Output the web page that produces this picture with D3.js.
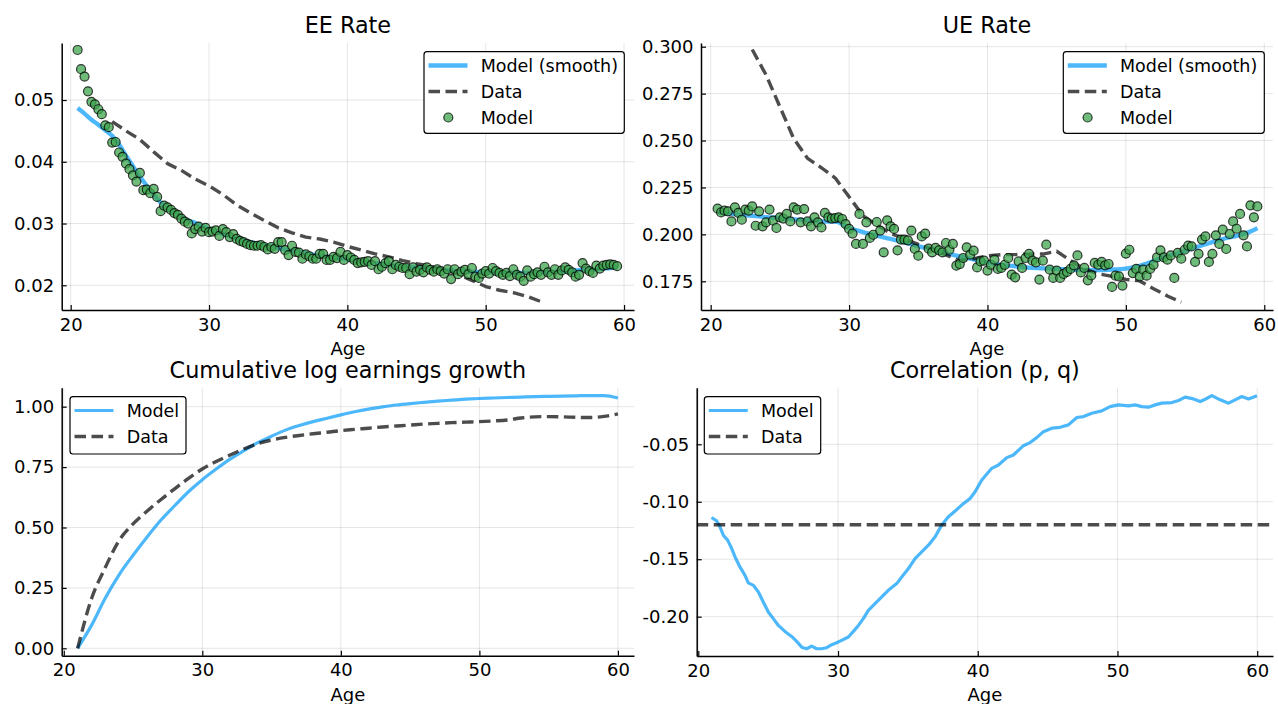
<!DOCTYPE html>
<html><head><meta charset="utf-8">
<script src="https://cdn.jsdelivr.net/npm/d3@7"></script>
<style>body{margin:0;background:#fff}svg{display:block}text{font-family:"DejaVu Sans",sans-serif}</style>
</head><body><svg id="c" width="1278" height="704"></svg>
<script>
// ---------------- DATA ----------------
const xTicks = [20, 30, 40, 50, 60];
const scatterAges = d3.range(20.5, 59.501, 0.25);

const eeModel = [
0.0581,0.0550,0.0538,0.0514,0.0497,0.0493,0.0485,0.0477,0.0459,0.0456,
0.0431,0.0432,0.0415,0.0408,0.0397,0.0388,0.0378,0.0368,0.0382,0.0354,
0.0355,0.0349,0.0356,0.0343,0.0320,0.0329,0.0326,0.0322,0.0317,0.0314,
0.0308,0.0303,0.0300,0.0284,0.0291,0.0295,0.0287,0.0293,0.0286,0.0287,
0.0289,0.0280,0.0291,0.0286,0.0278,0.0283,0.0275,0.0272,0.0270,0.0267,
0.0265,0.0264,0.0264,0.0265,0.0262,0.0258,0.0262,0.0259,0.0270,0.0270,
0.0257,0.0249,0.0264,0.0254,0.0253,0.0243,0.0250,0.0247,0.0243,0.0243,
0.0251,0.0251,0.0241,0.0241,0.0246,0.0244,0.0254,0.0241,0.0249,0.0245,
0.0241,0.0236,0.0237,0.0238,0.0239,0.0233,0.0239,0.0226,0.0230,0.0236,
0.0239,0.0226,0.0233,0.0230,0.0228,0.0228,0.0218,0.0229,0.0222,0.0225,
0.0221,0.0229,0.0225,0.0222,0.0226,0.0223,0.0219,0.0226,0.0210,0.0226,
0.0218,0.0222,0.0225,0.0218,0.0228,0.0214,0.0212,0.0219,0.0223,0.0219,
0.0228,0.0223,0.0220,0.0217,0.0220,0.0215,0.0226,0.0217,0.0214,0.0207,
0.0224,0.0214,0.0218,0.0221,0.0217,0.0230,0.0221,0.0217,0.0226,0.0217,
0.0224,0.0229,0.0225,0.0221,0.0214,0.0217,0.0236,0.0227,0.0223,0.0220,
0.0232,0.0227,0.0232,0.0233,0.0234,0.0233,0.0231];

const eeSmoothAges = [20.5,21,21.5,22,22.5,23,23.5,24,24.5,25,25.5,26,26.5,27,27.5,28,28.5,29,30,31,32,33,34,35,36,37,38,39,40,41,42,43,44,45,46,47,48,49,50,51,52,53,54,55,56,57,58,59,59.5];
const eeSmooth = [0.0487,0.0478,0.0468,0.0460,0.0451,0.0442,0.0428,0.0410,0.0393,0.0376,0.0361,0.0347,0.0334,0.0326,0.0318,0.0311,0.0305,0.0301,0.0291,0.0283,0.0276,0.0270,0.0265,0.0260,0.0256,0.0252,0.0248,0.0245,0.0242,0.0239,0.0236,0.0233,0.0231,0.0229,0.0227,0.0225,0.0223,0.0222,0.0221,0.0221,0.0220,0.0220,0.0221,0.0222,0.0223,0.0225,0.0226,0.0228,0.0229];

const dataAges = [23,24,25,26,27,28,29,30,31,32,33,34,35,36,37,38,39,40,41,42,43,44,45,46,47,48,49,50,51,52,53,54];
const eeData = [0.0465,0.0450,0.0436,0.0416,0.0397,0.0386,0.0372,0.0361,0.0347,0.0330,0.0317,0.0305,0.0293,0.0285,0.0278,0.0275,0.0270,0.0263,0.0257,0.0251,0.0246,0.0240,0.0235,0.0231,0.0225,0.0218,0.0208,0.0198,0.0192,0.0188,0.0182,0.01735];

const ueModel = [
0.2137,0.2117,0.2126,0.2123,0.2069,0.2144,0.2114,0.2078,0.2132,0.2126,
0.2149,0.2046,0.2123,0.2043,0.2064,0.2132,0.2073,0.2034,0.2091,0.2084,
0.2109,0.2069,0.2144,0.2132,0.2064,0.2135,0.2069,0.2043,0.2091,0.2064,
0.2037,0.2114,0.2091,0.2084,0.2087,0.2091,0.2082,0.2055,0.2029,0.2004,
0.1949,0.2109,0.1949,0.2064,0.1981,0.1998,0.2066,0.2020,0.1904,0.2075,
0.2043,0.2029,0.1915,0.1972,0.1972,0.1968,0.2020,0.1922,0.1886,0.1989,
0.2004,0.1924,0.1904,0.1928,0.1915,0.1904,0.1954,0.1918,0.1949,0.1833,
0.1842,0.1874,0.1931,0.1892,0.1913,0.1824,0.1856,0.1860,0.1807,0.1838,
0.1865,0.1816,0.1821,0.1838,0.1874,0.1785,0.1771,0.1856,0.1821,0.1874,
0.1896,0.1860,0.1851,0.1759,0.1860,0.1945,0.1812,0.1768,0.1807,0.1768,
0.1789,0.1800,0.1816,0.1835,0.1888,0.1797,0.1821,0.1755,0.1781,0.1848,
0.1838,0.1853,0.1835,0.1842,0.1720,0.1780,0.1776,0.1727,0.1897,0.1918,
0.1794,0.1816,0.1776,0.1812,0.1780,0.1816,0.1838,0.1877,0.1915,0.1877,
0.1865,0.1888,0.1768,0.1901,0.1870,0.1918,0.1940,0.1936,0.1853,0.1896,
0.1972,0.1989,0.1853,0.1896,0.1995,0.1949,0.2025,0.1922,0.2002,0.2069,
0.2030,0.2109,0.1995,0.1936,0.2155,0.2091,0.2149];

const ueSmoothAges = [20.5,21,22,23,24,25,26,27,28,29,30,31,32,33,34,35,36,37,38,39,40,41,42,43,44,45,46,47,48,49,50,51,52,53,54,55,56,57,58,59,59.5];
const ueSmooth = [0.2117,0.2113,0.2105,0.2098,0.2092,0.2087,0.2080,0.2074,0.2069,0.2068,0.2035,0.2012,0.1993,0.1976,0.1957,0.1937,0.1920,0.1900,0.1883,0.1866,0.1850,0.1838,0.1830,0.1823,0.1819,0.1816,0.1812,0.1809,0.1809,0.1812,0.1818,0.1833,0.1858,0.1885,0.1906,0.1930,0.1953,0.1975,0.1992,0.2015,0.2034];

const ueData = [0.2985,0.2850,0.2680,0.2510,0.2405,0.2355,0.2300,0.2200,0.2100,0.2050,0.2005,0.1977,0.1947,0.1921,0.1890,0.1860,0.1870,0.1885,0.1892,0.1892,0.1895,0.1895,0.1910,0.1860,0.1815,0.1790,0.1776,0.1760,0.1752,0.1710,0.1672,0.1638];

const earnAges = [21,22,23,24,25,26,27,28,29,30,31,32,33,34,35,36,37,38,39,40,41,42,43,44,45,46,47,48,49,50,51,52,53,54,55,56,57,58,59,60];
const earnModel = [0,0.095,0.208,0.305,0.385,0.460,0.530,0.590,0.648,0.698,0.742,0.783,0.818,0.851,0.878,0.903,0.922,0.938,0.952,0.966,0.979,0.990,0.999,1.007,1.013,1.018,1.023,1.027,1.031,1.034,1.036,1.038,1.040,1.042,1.043,1.044,1.045,1.046,1.046,1.036];
const earnData = [0,0.205,0.335,0.447,0.515,0.567,0.615,0.660,0.703,0.742,0.773,0.800,0.825,0.847,0.862,0.873,0.881,0.888,0.894,0.901,0.906,0.911,0.916,0.920,0.924,0.928,0.931,0.934,0.936,0.938,0.941,0.945,0.953,0.958,0.959,0.958,0.956,0.955,0.960,0.970];

const corrAges = [20.95,21.31,21.55,21.79,22.1,22.39,22.63,22.98,23.34,23.58,23.94,24.3,24.65,25.01,25.37,25.73,26.2,26.68,27.04,27.4,27.76,28.11,28.47,28.83,29.19,29.55,29.9,30.26,30.74,31.1,31.46,31.81,32.17,32.65,33.13,33.6,34.2,34.56,35.04,35.51,35.99,36.47,36.95,37.42,37.9,38.38,38.85,39.45,39.81,40.29,41.0,41.48,42.08,42.55,43.27,43.75,44.22,44.7,45.3,45.89,46.49,47.09,47.57,48.16,48.88,49.47,50.07,50.79,51.26,51.74,52.22,52.7,53.17,53.89,54.37,54.84,55.44,55.92,56.28,56.75,57.35,57.95,58.42,58.9,59.38,59.98];
const corrModel = [-0.1137,-0.1166,-0.1218,-0.1291,-0.1334,-0.1407,-0.1480,-0.1567,-0.1640,-0.1706,-0.1727,-0.1785,-0.1872,-0.1959,-0.2017,-0.2076,-0.2128,-0.2172,-0.2215,-0.2265,-0.2279,-0.2256,-0.2279,-0.2279,-0.2270,-0.2244,-0.2227,-0.2206,-0.2177,-0.2128,-0.2076,-0.2017,-0.1945,-0.1887,-0.1828,-0.1770,-0.1712,-0.1654,-0.1581,-0.1494,-0.1436,-0.1378,-0.1305,-0.1203,-0.1131,-0.1080,-0.1029,-0.0971,-0.0913,-0.0811,-0.0709,-0.0680,-0.0616,-0.0593,-0.0512,-0.0485,-0.0442,-0.0390,-0.0360,-0.0352,-0.0331,-0.0267,-0.0259,-0.0230,-0.0209,-0.0172,-0.0157,-0.0166,-0.0157,-0.0172,-0.0177,-0.0157,-0.0142,-0.0137,-0.0119,-0.0090,-0.0105,-0.0128,-0.0108,-0.0076,-0.0113,-0.0142,-0.0113,-0.0084,-0.0105,-0.0078];
const corrData = -0.12;

const eeTicks = [0.02, 0.03, 0.04, 0.05];
const ueTicks = [0.175, 0.200, 0.225, 0.250, 0.275, 0.300];
const earnTicks = [0, 0.25, 0.5, 0.75, 1.0];
const corrTicks = [-0.20, -0.15, -0.10, -0.05];

// ---------------- STYLE ----------------
const BLUE = "#009afa", GREEN = "#3da44d";
const FONT_TICK = 18, FONT_LEG = 17.5, FONT_TITLE = 22.3;
const DASH = "11.5,5.5", DASH_W = 3.4;
const svg = d3.select("#c");

function zip(a, b) { return a.map((v, i) => [v, b[i]]); }

function panel(c) {
  const g = svg.append("g");
  const x = d3.scaleLinear().domain(c.xDom).range([c.L, c.R]);
  const y = d3.scaleLinear().domain(c.yDom).range([c.B, c.T]);
  g.append("g").selectAll("line").data(xTicks).join("line")
    .attr("x1", d => x(d)).attr("x2", d => x(d)).attr("y1", c.T).attr("y2", c.B)
    .attr("stroke", "#000").attr("stroke-opacity", 0.1).attr("stroke-width", 1);
  g.append("g").selectAll("line").data(c.yTicks).join("line")
    .attr("y1", d => y(d)).attr("y2", d => y(d)).attr("x1", c.L).attr("x2", c.R)
    .attr("stroke", "#000").attr("stroke-opacity", 0.1).attr("stroke-width", 1);
  const ax = g.append("g").attr("transform", `translate(0,${c.B})`)
    .call(d3.axisBottom(x).tickValues(xTicks).tickSize(-5).tickSizeOuter(0).tickPadding(8).tickFormat(d => String(d)));
  const ay = g.append("g").attr("transform", `translate(${c.L},0)`)
    .call(d3.axisLeft(y).tickValues(c.yTicks).tickSize(-5).tickSizeOuter(0).tickPadding(7.5).tickFormat(d => d.toFixed(c.dec)));
  [ax, ay].forEach(a => {
    a.attr("font-family", null).attr("font-size", null);
    a.select(".domain").attr("stroke", "#000").attr("stroke-width", 1.5);
    a.selectAll(".tick line").attr("stroke", "#000").attr("stroke-width", 1.2);
    a.selectAll(".tick text").attr("fill", "#000").style("font-size", FONT_TICK + "px").style("font-family", '"DejaVu Sans", sans-serif');
  });
  g.append("text").attr("x", (c.L + c.R) / 2).attr("y", c.T - 10).attr("text-anchor", "middle")
    .style("font-size", FONT_TITLE + "px").attr("fill", "#000").text(c.title);
  g.append("text").attr("x", (c.L + c.R) / 2).attr("y", c.B + 45).attr("text-anchor", "middle")
    .style("font-size", FONT_TICK + "px").attr("fill", "#000").text("Age");
  const clipId = "clip" + c.id;
  svg.append("clipPath").attr("id", clipId).append("rect").attr("x", c.L).attr("y", c.T - 6).attr("width", c.R - c.L).attr("height", c.B - c.T + 6);
  const pg = g.append("g").attr("clip-path", `url(#${clipId})`);
  return { g, pg, x, y };
}

function drawLine(p, pts, style) {
  const line = d3.line().x(d => p.x(d[0])).y(d => p.y(d[1]));
  if (style.curve) line.curve(style.curve);
  p.pg.append("path").datum(pts).attr("d", line).attr("fill", "none")
    .attr("stroke", style.color).attr("stroke-opacity", style.opacity)
    .attr("stroke-width", style.width).attr("stroke-dasharray", style.dash || null)
    .attr("stroke-linejoin", "round");
}
function drawDots(p, pts) {
  p.pg.append("g").selectAll("circle").data(pts).join("circle")
    .attr("cx", d => p.x(d[0])).attr("cy", d => p.y(d[1])).attr("r", 4.5)
    .attr("fill", GREEN).attr("fill-opacity", 0.75)
    .attr("stroke", "#000").attr("stroke-opacity", 0.75).attr("stroke-width", 1.2);
}
function legend(p, x0, y0, w, h, items, lw) {
  const lg = p.g.append("g");
  lg.append("rect").attr("x", x0).attr("y", y0).attr("width", w).attr("height", h).attr("rx", 3)
    .attr("fill", "#fff").attr("stroke", "#000").attr("stroke-width", 1.2);
  items.forEach((it, i) => {
    const cy = y0 + 13.8 + i * 26;
    if (it.type === "dot") {
      lg.append("circle").attr("cx", x0 + 24.3).attr("cy", cy).attr("r", 4.5)
        .attr("fill", GREEN).attr("fill-opacity", 0.75).attr("stroke", "#000").attr("stroke-opacity", 0.75).attr("stroke-width", 1.2);
    } else {
      lg.append("line").attr("x1", x0 + 4.5).attr("x2", x0 + 43.5).attr("y1", cy).attr("y2", cy)
        .attr("stroke", it.type === "dash" ? "#000" : BLUE).attr("stroke-opacity", 0.7)
        .attr("stroke-width", it.type === "dash" ? DASH_W : lw).attr("stroke-dasharray", it.type === "dash" ? DASH : null);
    }
    lg.append("text").attr("x", x0 + 56.7).attr("y", cy).attr("dy", "0.36em")
      .style("font-size", FONT_LEG + "px").attr("fill", "#000").text(it.label);
  });
}

// ---------------- PANELS ----------------
const pEE = panel({ id: "ee", L: 61.7, R: 634, T: 43, B: 310, xDom: [19.35, 60.72], yDom: [0.0160, 0.05923], yTicks: eeTicks, dec: 2, title: "EE Rate" });
drawLine(pEE, zip(eeSmoothAges, eeSmooth), { color: BLUE, opacity: 0.7, width: 4.3, curve: d3.curveMonotoneX });
drawLine(pEE, zip(dataAges, eeData), { color: "#000", opacity: 0.7, width: DASH_W, dash: DASH });
drawDots(pEE, zip(scatterAges, eeModel));
legend(pEE, 424, 51.7, 200.3, 81.6, [{ type: "line", label: "Model (smooth)" }, { type: "dash", label: "Data" }, { type: "dot", label: "Model" }], 4.3);

const pUE = panel({ id: "ue", L: 701, R: 1273, T: 43, B: 310, xDom: [19.30, 60.63], yDom: [0.1597, 0.30197], yTicks: ueTicks, dec: 3, title: "UE Rate" });
drawLine(pUE, zip(ueSmoothAges, ueSmooth), { color: BLUE, opacity: 0.7, width: 4.3, curve: d3.curveMonotoneX });
drawLine(pUE, zip(dataAges, ueData), { color: "#000", opacity: 0.7, width: DASH_W, dash: DASH });
drawDots(pUE, zip(scatterAges, ueModel));
legend(pUE, 1063.3, 51.7, 201, 81.6, [{ type: "line", label: "Model (smooth)" }, { type: "dash", label: "Data" }, { type: "dot", label: "Model" }], 4.3);

const pEarn = panel({ id: "earn", L: 61.7, R: 634, T: 387.7, B: 655.7, xDom: [19.85, 61.16], yDom: [-0.0306, 1.0786], yTicks: earnTicks, dec: 2, title: "Cumulative log earnings growth" });
drawLine(pEarn, zip(earnAges, earnModel), { color: BLUE, opacity: 0.7, width: 3.2, curve: d3.curveMonotoneX });
drawLine(pEarn, zip(earnAges, earnData), { color: "#000", opacity: 0.7, width: DASH_W, dash: DASH, curve: d3.curveMonotoneX });
legend(pEarn, 70, 396.7, 116, 57.3, [{ type: "line", label: "Model" }, { type: "dash", label: "Data" }], 3.2);

const pCorr = panel({ id: "corr", L: 696.7, R: 1273, T: 387.7, B: 656, xDom: [19.886, 61.13], yDom: [-0.2342, -0.00075], yTicks: corrTicks, dec: 2, title: "Correlation (p, q)" });
drawLine(pCorr, zip(corrAges, corrModel), { color: BLUE, opacity: 0.7, width: 3.2 });
drawLine(pCorr, [[pCorr.x.domain()[0], corrData], [pCorr.x.domain()[1], corrData]], { color: "#000", opacity: 0.7, width: DASH_W, dash: DASH });
legend(pCorr, 704.3, 396.7, 116.4, 57.3, [{ type: "line", label: "Model" }, { type: "dash", label: "Data" }], 3.2);
</script></body></html>
